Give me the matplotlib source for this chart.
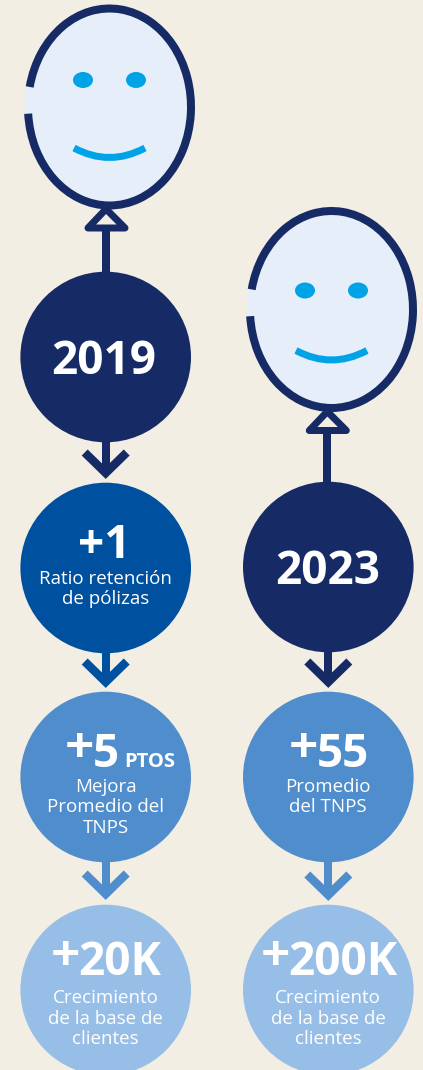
import matplotlib
matplotlib.use("Agg")
import matplotlib.pyplot as plt
from matplotlib.patches import Arc, Circle, Ellipse, PathPatch
from matplotlib.path import Path

BG = "#F2EEE4"
NAVY = "#162B65"
BLUE = "#0050A0"
MID = "#508DCD"
LIGHT = "#97BEE7"
FACE = "#E6EFF9"
CYAN = "#00A3E6"

# left and right column content
left_big = ["2019", "+1", "5", "20K"]
left_small = [[], ["Ratio retención", "de pólizas"], ["Mejora", "Promedio del", "TNPS"],
              ["Crecimiento", "de la base de", "clientes"]]
left_colors = [NAVY, BLUE, MID, LIGHT]

right_big = ["2023", "55", "200K"]
right_small = [[], ["Promedio", "del TNPS"], ["Crecimiento", "de la base de", "clientes"]]
right_colors = [NAVY, MID, LIGHT]

# layout, in picture pixels
left_y = [357, 568, 777, 990]
right_y = [567, 777, 990]
left_tips = [479, 688, 900]
right_tips = [688, 901]
left_num_x = [103.5, 104, 106, 120]
right_num_x = [328, 343, 342.5]
left_plus_x = [None, None, 79.5, 65]
right_plus_x = [None, 303, 275]
left_plus_y = [None, None, 745, 953]
right_plus_y = [None, 745, 953]
left_base = [374, 558, 767, 975]
right_base = [584, 767, 975]
left_line1 = [None, 584, 792, 1003]
right_line1 = [None, 792, 1003]

PX = 0.72
FONT = "Open Sans"

fig = plt.figure(figsize=(4.23, 10.7), dpi=100, facecolor=BG)
ax = fig.add_axes([0, 0, 1, 1])
ax.set_xlim(0, 423)
ax.set_ylim(1070, 0)
ax.axis("off")


def balloon(cx, cy, knot_x, eye_dy, string_end):
    # knot and string go behind the face
    tri = [(knot_x - 18, cy + 121), (knot_x, cy + 102), (knot_x + 19, cy + 121), (knot_x - 18, cy + 121)]
    ax.plot([knot_x, knot_x], [cy + 123, string_end], color=NAVY, lw=8 * PX, solid_capstyle="butt", zorder=1)
    ax.add_patch(plt.Polygon(tri, closed=True, facecolor=BG, edgecolor=NAVY, lw=7 * PX,
                             joinstyle="round", zorder=1))
    ax.add_patch(Ellipse((cx, cy), 170, 204, facecolor=FACE, edgecolor="none", zorder=2))
    ax.add_patch(Arc((cx, cy), 163, 197, theta1=194.1, theta2=535.3, color=NAVY, lw=8 * PX, zorder=3))
    for dx in (-26.5, 26.5):
        ax.add_patch(Ellipse((cx + dx, cy + eye_dy), 20, 16, facecolor=CYAN, edgecolor="none", zorder=3))
    smile = Path([(cx - 35.5, cy + 41), (cx, cy + 60), (cx + 35.5, cy + 41)],
                 [Path.MOVETO, Path.CURVE3, Path.CURVE3])
    ax.add_patch(PathPatch(smile, facecolor="none", edgecolor=CYAN, lw=7 * PX, capstyle="butt", zorder=3))


def chevron(x, top, tip, color):
    ax.plot([x, x], [top, tip - 6], color=color, lw=8 * PX, solid_capstyle="butt", zorder=1)
    ax.plot([x - 21, x, x + 21], [tip - 26.5, tip - 6, tip - 26.5], color=color, lw=8.5 * PX,
            solid_capstyle="butt", solid_joinstyle="miter", zorder=1)


def column(cx, ys, tips, bigs, num_x, plus_x, plus_y, bases, line1, smalls, colors):
    for i, y in enumerate(ys):
        ax.add_patch(Circle((cx, y), 85.3, facecolor=colors[i], edgecolor="none", zorder=2))
        ax.text(num_x[i], bases[i], bigs[i], color="white", fontsize=33, fontweight="bold", family=FONT,
                ha="center", va="baseline", zorder=4)
        if plus_x[i] is not None:
            ax.text(plus_x[i], plus_y[i] + 18, "+", color="white", fontsize=37, fontweight="bold", family=FONT,
                    ha="center", va="baseline", zorder=4)
        for j, line in enumerate(smalls[i]):
            ax.text(cx, line1[i] + j * 20.5, line, color="white", fontsize=13.5, family=FONT,
                    ha="center", va="baseline", zorder=4)
    for y, tip, color in zip(ys, tips, colors):
        chevron(cx, y + 80, tip, color)


balloon(109.5, 107, 106, -27, 275)
balloon(331.5, 309.5, 327.3, -19, 485)
column(105.7, left_y, left_tips, left_big, left_num_x, left_plus_x, left_plus_y,
       left_base, left_line1, left_small, left_colors)
column(328.3, right_y, right_tips, right_big, right_num_x, right_plus_x, right_plus_y,
       right_base, right_line1, right_small, right_colors)
ax.text(124, 767, "PTOS", color="white", fontsize=14.5, fontweight="bold", family=FONT,
        ha="left", va="baseline", zorder=4)

fig.savefig("out.png", dpi=100, facecolor=BG)
